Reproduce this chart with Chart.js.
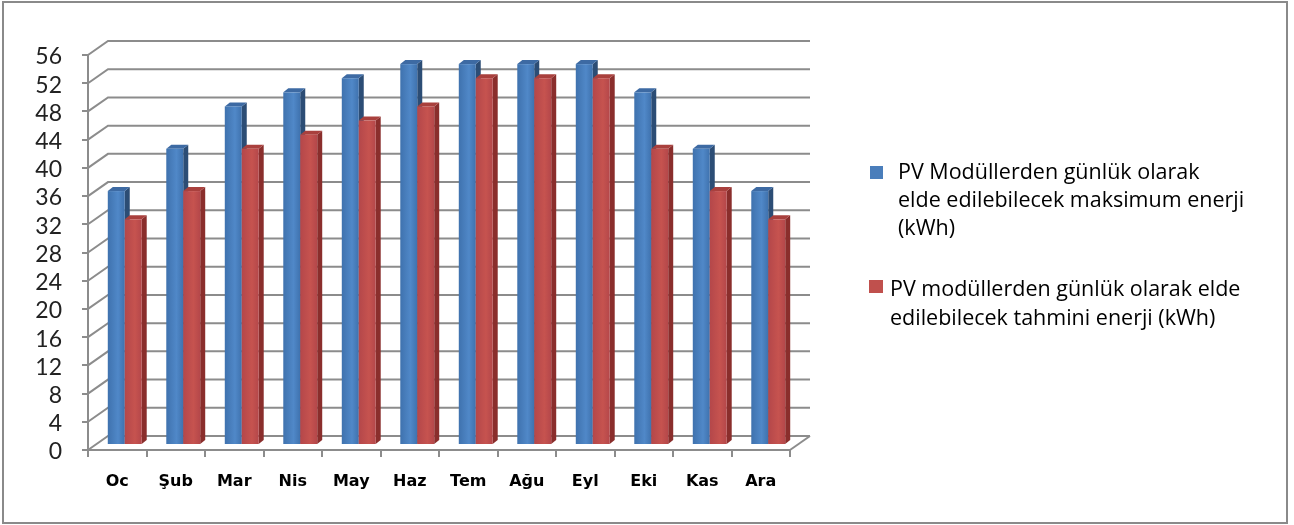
<!DOCTYPE html>
<html>
<head>
<meta charset="utf-8">
<script src="https://cdn.jsdelivr.net/npm/chart.js@4"></script>
<style>
  body { margin: 0; background: #fff; }
  #wrap { width: 1294px; height: 525px; }
</style>
</head>
<body>
<div id="wrap"><canvas id="energyChart" width="1294" height="525"></canvas></div>
<script>
// data
const months = ['Oc', 'Şub', 'Mar', 'Nis', 'May', 'Haz', 'Tem', 'Ağu', 'Eyl', 'Eki', 'Kas', 'Ara'];
const maxEnergy = [36, 42, 48, 50, 52, 54, 54, 54, 54, 50, 42, 36];
const estEnergy = [32, 36, 42, 44, 46, 48, 52, 52, 52, 42, 36, 32];
const yMin = 0, yMax = 56, yStep = 4;
const legendMax = ['PV Modüllerden günlük olarak', 'elde edilebilecek maksimum enerji', '(kWh)'];
const legendEst = ['PV modüllerden günlük olarak elde', 'edilebilecek tahmini enerji (kWh)'];

// look of the fake 3d
const WALL_DX = 20, WALL_DY = -14;   // back wall offset
const BAR_DX = 7.5, BAR_DY = -5;     // bars sit a bit into the depth
const SIDE_DX = 5, SIDE_DY = -4;     // bar thickness
const GRID = '#8c8c8c';
const barColors = [
  { front: ['#3f72ae', '#5088c8'], side: '#2c4d75', top: '#3d6aa3' },
  { front: ['#b4474a', '#c6534f'], side: '#8a2e2c', top: '#a9403d' }
];

const frame3d = {
  id: 'frame3d',
  beforeDraw(chart) {
    const { ctx, chartArea: a } = chart;
    const y = chart.scales.y;
    ctx.save();
    ctx.fillStyle = '#fff';
    ctx.fillRect(0, 0, chart.width, chart.height);
    // outer frame
    ctx.strokeStyle = '#8a8a8a';
    ctx.lineWidth = 2;
    ctx.strokeRect(3, 2, 1284, 521);
    // back wall + left wall grid
    ctx.strokeStyle = GRID;
    ctx.lineWidth = 2;
    y.ticks.forEach(t => {
      const py = y.getPixelForValue(t.value);
      ctx.beginPath();
      ctx.moveTo(a.left, py);
      ctx.lineTo(a.left + WALL_DX, py + WALL_DY);
      ctx.lineTo(a.right + WALL_DX, py + WALL_DY);
      ctx.stroke();
    });
    // floor right edge
    ctx.beginPath();
    ctx.moveTo(a.right, a.bottom);
    ctx.lineTo(a.right + WALL_DX, a.bottom + WALL_DY);
    ctx.stroke();
    ctx.restore();
  },
  afterDatasetsDraw(chart) {
    const { ctx } = chart;
    ctx.save();
    [0, 1].forEach(di => {
      const c = barColors[di];
      chart.getDatasetMeta(di).data.forEach(el => {
        const w = el.width;
        const x1 = el.x - w / 2 + BAR_DX, x2 = x1 + w;
        const top = el.y + BAR_DY, bot = el.base + BAR_DY;
        // side
        ctx.fillStyle = c.side;
        ctx.beginPath();
        ctx.moveTo(x2, top);
        ctx.lineTo(x2 + SIDE_DX, top + SIDE_DY);
        ctx.lineTo(x2 + SIDE_DX, bot + SIDE_DY);
        ctx.lineTo(x2, bot);
        ctx.closePath();
        ctx.fill();
        // top
        ctx.fillStyle = c.top;
        ctx.beginPath();
        ctx.moveTo(x1, top);
        ctx.lineTo(x1 + SIDE_DX, top + SIDE_DY);
        ctx.lineTo(x2 + SIDE_DX, top + SIDE_DY);
        ctx.lineTo(x2, top);
        ctx.closePath();
        ctx.fill();
        // front
        const g = ctx.createLinearGradient(x1, 0, x2, 0);
        g.addColorStop(0, c.front[0]);
        g.addColorStop(0.6, c.front[1]);
        g.addColorStop(1, c.front[0]);
        ctx.fillStyle = g;
        ctx.fillRect(x1, top, w, bot - top);
      });
    });
    ctx.restore();
  },
  afterDraw(chart) {
    const { ctx } = chart;
    ctx.save();
    ctx.font = '21.5px "Open Sans"';
    ctx.textBaseline = 'middle';
    ctx.fillStyle = '#4a7ebb';
    ctx.fillRect(870, 166, 13, 13);
    ctx.fillStyle = '#c0504d';
    ctx.fillRect(869, 280, 14, 13);
    ctx.fillStyle = '#000';
    legendMax.forEach((s, i) => ctx.fillText(s, 898, 173 + i * 28));
    legendEst.forEach((s, i) => ctx.fillText(s, 890, 290 + i * 29));
    ctx.restore();
  }
};

new Chart(document.getElementById('energyChart'), {
  type: 'bar',
  data: {
    labels: months,
    datasets: [
      { label: legendMax.join(' '), data: maxEnergy, backgroundColor: 'rgba(0,0,0,0)' },
      { label: legendEst.join(' '), data: estEnergy, backgroundColor: 'rgba(0,0,0,0)' }
    ]
  },
  options: {
    responsive: false,
    animation: false,
    layout: { padding: { top: 55, right: 504, left: 0, bottom: 0 } },
    categoryPercentage: 0.58,
    barPercentage: 1,
    plugins: { legend: { display: false }, tooltip: { enabled: false } },
    scales: {
      x: {
        afterFit(s) { s.height = 75; },
        grid: { offset: true, drawOnChartArea: false, tickLength: 7, color: GRID, lineWidth: 2 },
        border: { color: GRID, width: 2 },
        ticks: { color: '#000', padding: 15, font: { family: 'DejaVu Sans', size: 16, weight: 'bold' } }
      },
      y: {
        min: yMin,
        max: yMax,
        afterFit(s) { s.width = 88; },
        grid: { drawOnChartArea: false, tickLength: 6, color: GRID, lineWidth: 2 },
        border: { color: GRID, width: 2 },
        ticks: { stepSize: yStep, autoSkip: false, labelOffset: 2, color: '#222', padding: 20, font: { family: 'Lato', size: 23 } }
      }
    }
  },
  plugins: [frame3d]
});
</script>
</body>
</html>
